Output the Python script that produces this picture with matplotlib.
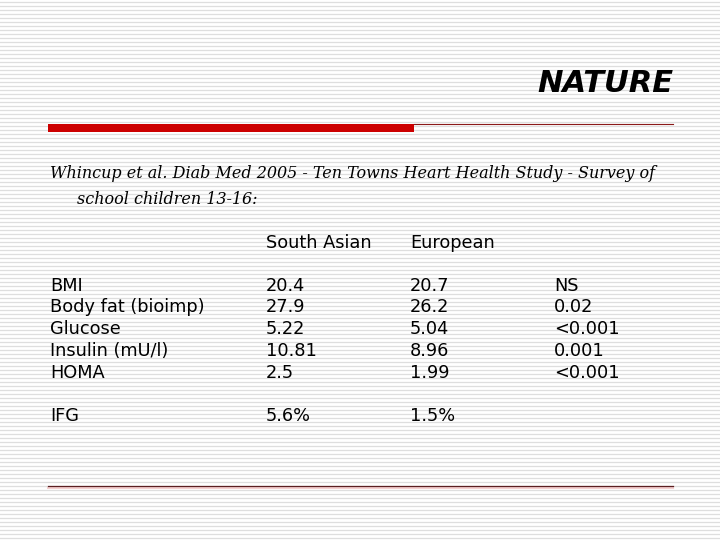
import matplotlib.pyplot as plt
import numpy as np

# table data
rows = ["BMI", "Body fat (bioimp)", "Glucose", "Insulin (mU/l)", "HOMA"]
south_asian = ["20.4", "27.9", "5.22", "10.81", "2.5"]
european = ["20.7", "26.2", "5.04", "8.96", "1.99"]
p_values = ["NS", "0.02", "<0.001", "0.001", "<0.001"]
ifg = ["IFG", "5.6%", "1.5%"]
headers = ["South Asian", "European"]

fig = plt.figure(figsize=(7.2, 5.4), dpi=100)
ax = fig.add_axes([0, 0, 1, 1])
ax.set_xlim(0, 720)
ax.set_ylim(540, 0)
ax.axis("off")

# striped slide background
for y in np.arange(1.5, 540, 4):
    ax.axhline(y, color="#dedede", lw=0.9, zorder=0)

# title
ax.text(673, 84, "NATURE", ha="right", va="center", fontsize=22,
        fontweight="bold", fontstyle="oblique", family="DejaVu Sans")

# red bar + thin line
ax.fill_between([48, 414], 124, 132, color="#cc0000", lw=0, zorder=2)
ax.plot([414, 673], [123.5, 123.5], color="#8b1a1a", lw=0.8, zorder=2)

# subtitle
ax.text(50, 174, "Whincup et al. Diab Med 2005 - Ten Towns Heart Health Study - Survey of",
        ha="left", va="center", fontsize=11.5, fontstyle="italic", family="DejaVu Serif")
ax.text(77, 200, "school children 13-16:", ha="left", va="center", fontsize=11.5,
        fontstyle="italic", family="DejaVu Serif")

cols = [50, 266, 410, 554]
fs = 12.8
for x, h in zip(cols[1:3], headers):
    ax.text(x, 243, h, ha="left", va="center", fontsize=fs, family="DejaVu Sans")

row_y = [286, 307.5, 329, 351, 373]
for y, r, a, e, p in zip(row_y, rows, south_asian, european, p_values):
    for x, t in zip(cols, [r, a, e, p]):
        ax.text(x, y, t, ha="left", va="center", fontsize=fs, family="DejaVu Sans")

for x, t in zip(cols, ifg):
    ax.text(x, 416, t, ha="left", va="center", fontsize=fs, family="DejaVu Sans")

# bottom rule
ax.plot([48, 673], [487.5, 487.5], color="#f5d0d0", lw=1.5, zorder=2)
ax.plot([48, 673], [486, 486], color="#5a1f22", lw=0.9, zorder=3)

fig.savefig("out.png", dpi=100)
